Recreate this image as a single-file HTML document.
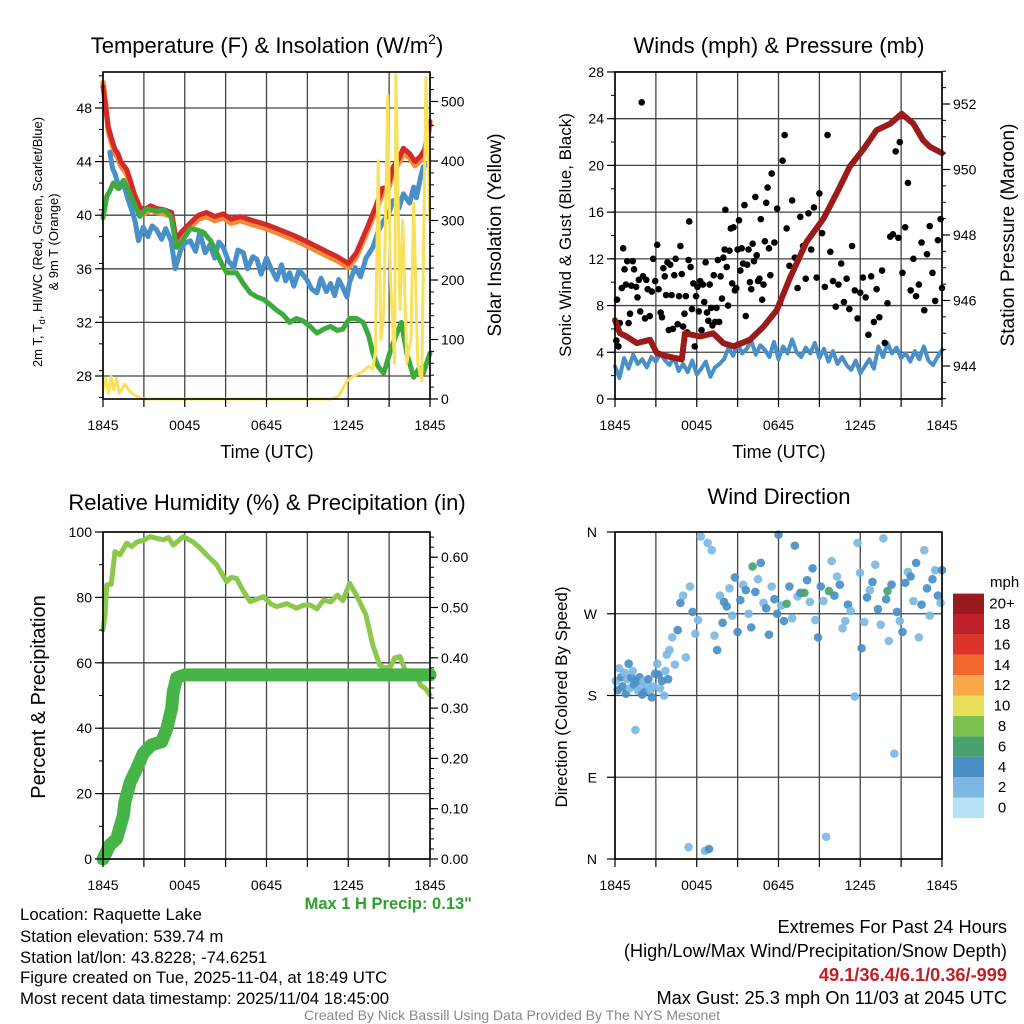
<!DOCTYPE html>
<html><head><meta charset="utf-8"><style>
html,body{margin:0;padding:0;background:#fff;}
svg{display:block;font-family:"Liberation Sans",Arial,sans-serif;}
</style></head><body>
<svg id="chart" width="1024" height="1024" viewBox="0 0 1024 1024" xmlns="http://www.w3.org/2000/svg">
<rect x="0" y="0" width="1024" height="1024" fill="#fff"/>
<g id="grids"></g>
<g id="series"></g>
<g id="frames"></g>
<g id="labels" font-size="14" fill="#000"></g>

<text x="267" y="53" font-size="22" text-anchor="middle">Temperature (F) &amp; Insolation (W/m<tspan font-size="14" dy="-9">2</tspan><tspan dy="9">)</tspan></text>
<text x="779" y="53" font-size="22" text-anchor="middle">Winds (mph) &amp; Pressure (mb)</text>
<text x="267" y="510" font-size="22" text-anchor="middle">Relative Humidity (%) &amp; Precipitation (in)</text>
<text x="779" y="504" font-size="22" text-anchor="middle">Wind Direction</text>

<text x="267" y="458" font-size="18" text-anchor="middle">Time (UTC)</text>
<text x="779" y="458" font-size="18" text-anchor="middle">Time (UTC)</text>

<g transform="translate(42,242) rotate(-90)" font-size="13" text-anchor="middle">
<text x="0" y="0">2m T, T<tspan font-size="9" dy="3">d</tspan><tspan dy="-3">, HI/WC (Red, Green, Scarlet/Blue)</tspan></text>
<text x="0" y="16">&amp; 9m T (Orange)</text>
</g>
<text transform="translate(501,235) rotate(-90)" font-size="19" text-anchor="middle">Solar Insolation (Yellow)</text>
<text transform="translate(571,235) rotate(-90)" font-size="17" text-anchor="middle">Sonic Wind &amp; Gust (Blue, Black)</text>
<text transform="translate(1014,235) rotate(-90)" font-size="19" text-anchor="middle">Station Pressure (Maroon)</text>
<text transform="translate(45,697) rotate(-90)" font-size="20" text-anchor="middle">Percent &amp; Precipitation</text>
<text transform="translate(567,697) rotate(-90)" font-size="17" text-anchor="middle">Direction (Colored By Speed)</text>

<text x="472" y="909" font-size="16.5" font-weight="bold" fill="#2ea02e" text-anchor="end">Max 1 H Precip: 0.13"</text>

<g font-size="16.8">
<text x="20" y="920">Location: Raquette Lake</text>
<text x="20" y="942">Station elevation: 539.74 m</text>
<text x="20" y="963">Station lat/lon: 43.8228; -74.6251</text>
<text x="20" y="983">Figure created on Tue, 2025-11-04, at 18:49 UTC</text>
<text x="20" y="1004">Most recent data timestamp: 2025/11/04 18:45:00</text>
</g>
<g font-size="18.2" text-anchor="end">
<text x="1007" y="933">Extremes For Past 24 Hours</text>
<text x="1007" y="957">(High/Low/Max Wind/Precipitation/Snow Depth)</text>
<text x="1007" y="981" font-weight="bold" fill="#c0202a">49.1/36.4/6.1/0.36/-999</text>
<text x="1007" y="1004">Max Gust: 25.3 mph On 11/03 at 2045 UTC</text>
</g>
<text x="512" y="1020" font-size="14" fill="#888" text-anchor="middle">Created By Nick Bassill Using Data Provided By The NYS Mesonet</text>
<g id="colorbar">
<text x="990" y="587" font-size="15">mph</text>
</g>
</svg>
<script>
// ---------- data ----------
const timeLabels = ["1845","0045","0645","1245","1845"];
const tempTicks = [28,32,36,40,44,48];
const solarTicks = [0,100,200,300,400,500];
const windTicks = [0,4,8,12,16,20,24,28];
const pressTicks = [944,946,948,950,952];
const rhTicks = [0,20,40,60,80,100];
const precipTicks = [0,0.1,0.2,0.3,0.4,0.5,0.6];
const dirTicks = [0,90,180,270,360];
const dirLabels = ["N","E","S","W","N"];
const cbLabels = ["0","2","4","6","8","10","12","14","16","18","20+"];
const cbColors = ["#b8e2f8","#7db8e3","#4a8ec6","#4aa36d","#7bc24e","#e8e05a","#f8a84a","#f0662c","#dd3429","#c0202a","#9b1a1f"];

const redT = [0,0.2,0.39,0.6,0.88,1.1,1.3,1.74,2.0,2.3,2.71,3.0,3.5,3.94,4.5,5.04,5.36,5.8,6.39,7.0,7.6,8.2,8.83,9.4,10.06,11.0,12.0,13.0,14.2,15.2,16.2,17.2,18.0,18.6,19.4,20.0,20.5,20.9,21.3,21.7,22.05,22.5,22.9,23.3,23.6,24.0];
const redV = [49.6,48.0,46.6,45.8,44.9,44.6,44.0,43.4,42.6,41.6,40.6,40.4,40.7,40.5,40.4,40.2,38.2,38.8,39.4,40.0,40.2,39.9,40.1,39.7,39.9,39.6,39.3,38.9,38.4,37.9,37.4,36.9,36.4,37.2,39.1,40.6,42.0,42.1,43.6,44.2,45.0,44.6,44.0,44.4,44.9,47.0];
const orangeV = [49.9,48.3,46.3,45.5,44.6,44.3,43.7,43.1,42.3,41.3,40.3,40.1,40.4,40.2,40.1,39.9,37.9,38.5,39.1,39.7,39.9,39.6,39.8,39.4,39.6,39.3,39.0,38.6,38.1,37.6,37.1,36.6,36.1,36.9,38.8,40.3,41.6,41.8,43.3,43.9,44.6,44.3,43.7,44.1,44.6,46.7];

const blueT = [0.51,0.7,0.88,1.2,1.5,1.8,2.1,2.35,2.6,2.96,3.3,3.6,3.94,4.3,4.6,5.0,5.3,5.7,6.0,6.4,6.8,7.1,7.5,7.85,8.2,8.5,8.83,9.2,9.6,9.9,10.3,10.6,11.0,11.3,11.6,12.0,12.3,12.75,13.1,13.4,13.7,14.0,14.4,14.95,15.3,15.7,16.0,16.4,16.7,17.0,17.3,17.6,17.9,18.1,18.5,18.9,19.3,19.8,20.2,20.6,21.0,21.3,21.7,22.05,22.5,22.8,23.0,23.3,23.5,23.76];
const blueV = [44.7,43.5,43.1,42.0,42.4,41.3,40.4,39.6,38.1,39.1,38.4,39.2,38.9,38.2,39.0,38.1,36.0,37.4,37.9,38.1,37.3,38.7,37.2,37.8,36.8,38.0,37.6,36.6,36.1,37.4,37.2,36.0,36.9,36.7,35.6,36.8,36.1,35.2,36.3,35.1,35.7,34.7,35.9,35.2,34.5,34.2,35.3,34.3,34.9,34.0,35.2,34.6,33.9,35.0,36.1,35.4,36.8,37.6,38.8,39.6,40.2,41.1,40.5,41.6,40.9,42.1,41.3,42.8,43.6,43.8];

const greenT = [0,0.27,0.5,0.76,1.1,1.5,1.8,2.2,2.7,3.2,3.94,4.5,5.0,5.4,5.9,6.4,6.9,7.4,7.9,8.34,8.7,9.07,9.8,10.3,10.8,11.3,11.8,12.3,12.75,13.2,13.7,14.2,14.7,15.2,15.7,16.2,16.7,17.2,17.6,18.1,18.6,19.1,19.5,19.8,20.2,20.6,21.1,21.5,21.9,22.3,22.8,23.2,23.5,24.0];
const greenV = [39.8,41.4,41.8,42.4,42.0,42.6,42.0,41.1,39.9,40.5,40.3,40.4,39.9,37.6,38.2,39.0,38.9,38.7,38.1,37.2,36.4,35.7,35.7,34.9,34.2,33.9,33.7,33.3,32.9,32.6,32.0,32.3,32.1,31.7,31.2,31.5,31.7,31.4,31.5,32.3,32.3,32.0,31.0,29.7,28.7,28.2,29.9,31.0,32.0,29.7,27.9,28.6,28.2,29.7];

const solarT = [0,0.2,0.4,0.6,0.8,1.0,1.2,1.6,2.0,2.5,3.0,16.8,17.3,17.9,18.5,19.0,19.5,19.8,20.0,20.2,20.4,20.6,20.9,21.1,21.4,21.5,21.8,22.0,22.3,22.6,22.8,23.1,23.4,23.7,24.0];
const solarV = [15,35,10,38,15,35,10,25,12,4,0,0,5,30,40,45,55,50,80,400,100,140,510,200,60,545,150,300,60,100,330,60,30,540,300];

const pressT = [0,0.37,0.86,1.6,2.57,3.06,3.79,4.9,5.14,6.24,7.2,7.95,8.7,9.9,10.9,11.87,12.85,14.07,15.3,16.3,17.25,18.2,19.2,20.2,21.04,21.9,22.6,23.1,24.0];
const pressV = [945.4,945.0,944.9,944.7,944.8,944.4,944.3,944.2,945.0,944.9,945.0,944.7,944.6,944.8,945.2,945.7,946.7,947.8,948.5,949.3,950.1,950.6,951.2,951.4,951.7,951.4,950.9,950.7,950.5];

// sonic wind sampled every 20 minutes
const sonicV = [2.8,1.8,3.5,2.6,3.8,3.0,3.4,2.7,3.6,3.2,3.9,3.3,2.9,3.6,2.4,
3.0,2.3,3.3,2.1,2.6,3.2,1.9,2.7,3.0,
3.4,4.4,3.7,4.8,3.9,4.3,5.0,3.8,4.6,4.2,3.6,4.9,
3.4,4.5,3.9,5.1,4.0,3.6,4.4,3.9,4.8,3.5,4.3,3.2,4.1,3.0,3.6,
2.9,2.5,3.3,2.2,2.8,3.4,
2.6,4.5,3.6,4.8,3.9,4.4,
3.5,3.9,3.2,4.1,3.4,4.5,3.3,2.9,3.6,4.2];

const gustT = [0.1,0.15,0.25,0.35,0.5,0.6,0.7,0.8,0.9,1.0,1.1,1.2,1.3,1.4,1.55,1.65,1.75,1.85,1.96,2.05,2.2,2.3,2.4,2.55,2.7,2.8,2.95,3.1,3.2,3.35,3.45,3.55,3.65,3.75,3.85,3.95,4.05,4.15,4.25,4.35,4.45,4.6,4.7,4.8,4.9,5.0,5.1,5.2,5.3,5.4,5.45,5.55,5.65,5.75,5.85,5.95,6.05,6.15,6.25,6.35,6.45,6.55,6.65,6.75,6.85,6.95,7.05,7.15,7.25,7.35,7.45,7.55,7.65,7.75,7.85,7.95,8.05,8.1,8.2,8.3,8.4,8.5,8.6,8.7,8.8,8.9,9.0,9.1,9.2,9.3,9.4,9.5,9.6,9.7,9.8,9.9,10.0,10.1,10.2,10.3,10.4,10.5,10.6,10.7,10.8,10.9,11.0,11.1,11.2,11.3,11.4,11.5,11.7,11.9,12.1,12.3,12.45,12.6,12.8,13.0,13.2,13.4,13.6,13.8,14.0,14.2,14.4,14.6,14.8,15.0,15.2,15.4,15.6,15.8,16.0,16.2,16.4,16.6,16.8,17.0,17.2,17.4,17.6,17.8,18.0,18.2,18.4,18.6,18.8,19.0,19.2,19.4,19.6,19.8,20.0,20.2,20.4,20.6,20.8,20.9,21.1,21.3,21.5,21.7,21.9,22.1,22.3,22.5,22.7,22.9,23.1,23.3,23.5,23.7,23.9,24.0];
const gustV = [5.0,8.5,4.5,6.5,9.5,12.9,11.1,9.8,11.8,6.5,7.3,9.7,11.8,11.1,9.6,8.7,10.2,7.5,25.4,10.5,6.9,10.2,9.4,7.1,9.2,12.0,10.1,13.2,9.4,7.4,7.0,11.2,10.5,8.9,11.7,5.9,11.5,8.9,6.0,10.6,12.0,6.4,8.8,13.1,10.7,6.2,7.3,8.8,5.7,11.9,15.2,11.3,7.7,9.9,4.5,8.8,9.6,7.5,10.1,5.9,9.8,8.3,11.7,7.4,6.7,9.8,7.8,6.3,10.6,6.6,7.8,11.9,6.6,10.5,8.6,12.1,12.8,16.2,11.3,8.0,12.7,14.6,9.9,14.7,9.3,9.5,12.8,15.3,11.0,12.9,11.6,16.6,7.1,11.5,12.8,10.0,9.4,13.3,11.8,17.3,12.3,10.1,10.3,15.4,8.5,9.8,13.5,16.8,18.1,12.9,10.6,19.3,13.4,16.3,8.2,20.4,22.6,14.6,11.4,17.0,12.1,9.5,15.6,13.1,10.3,15.9,12.8,16.4,10.4,17.6,14.2,9.6,22.6,12.6,10.1,7.9,9.8,11.6,8.3,10.3,7.7,13.1,9.3,6.9,9.1,10.4,8.7,5.5,10.5,6.6,9.4,7.0,11.0,4.8,8.2,13.9,14.1,21.2,13.8,22.0,10.8,14.7,18.5,9.3,12.0,8.8,9.8,13.4,7.6,12.4,14.8,10.8,8.4,13.6,15.4,9.5,11.9,6.1,16.0,10.4,8.7,16.5];

const dirT = [0.05,0.2,0.3,0.45,0.55,0.7,0.8,0.9,1.0,1.1,1.2,1.3,1.4,1.5,1.6,1.7,1.8,1.9,2.0,2.1,2.2,2.3,2.45,2.6,2.7,2.8,2.95,3.1,3.2,3.3,3.45,3.6,3.7,3.8,3.9,4.0,4.2,4.4,4.6,4.8,5.0,5.2,5.4,5.5,5.7,5.9,6.1,6.3,6.6,6.8,6.9,7.1,7.3,7.5,7.7,7.9,8.0,8.2,8.4,8.6,8.8,9.0,9.2,9.4,9.6,9.8,10.0,10.1,10.3,10.5,10.7,10.9,11.1,11.3,11.5,11.7,11.9,12.0,12.2,12.4,12.6,12.8,13.0,13.2,13.4,13.6,13.9,14.1,14.3,14.5,14.7,14.9,15.1,15.3,15.5,15.7,15.9,16.1,16.3,16.5,16.7,16.9,17.1,17.3,17.6,17.8,17.98,18.1,18.3,18.5,18.7,18.9,19.1,19.3,19.5,19.7,19.9,20.0,20.1,20.3,20.5,20.7,20.9,21.1,21.3,21.5,21.7,21.9,22.1,22.3,22.5,22.7,22.9,23.1,23.3,23.5,23.7,23.9,24.0];
const dirV = [196,186,210,200,190,205,182,198,215,188,200,207,192,142,195,185,200,188,181,196,184,192,198,186,178,190,204,215,203,188,196,180,207,225,198,230,244,214,252,282,290,222,13,300,272,248,263,355,9,348,11,340,246,230,290,260,283,278,298,268,310,250,285,302,296,270,255,322,294,308,326,282,276,247,300,286,270,357,279,262,281,300,265,345,289,293,293,307,283,320,263,244,300,284,24.5,295,328,290,311,302,254,262,280,273,179,348,315,232,261,288,296,305,324,275,258,353,286,295,240,302,116,272,262,250,304,316,311,284,326,244,280,340,298,268,308,318,290,282,318,300,262];
const dirS = [3.2,4.5,3.0,4.6,4.4,3.3,4.7,3.1,4.5,2.9,4.4,3.2,4.8,3.0,4.3,3.4,4.5,3.3,4.6,3.1,4.4,3.2,4.6,3.5,4.7,3.0,4.5,3.3,4.4,3.0,4.8,3.1,3.4,3.2,4.5,3.6,3.3,3.1,4.6,4.7,3.2,3.4,3.0,3.1,4.5,3.2,3.4,3.0,3.3,3.1,4.5,3.2,3.3,4.4,3.1,4.6,4.5,4.7,3.2,3.4,4.6,4.5,4.4,3.1,4.6,3.3,4.5,6.5,4.5,3.2,4.6,3.3,4.7,4.4,3.2,4.5,4.6,4.5,3.1,4.4,6.5,4.6,3.3,4.5,3.2,4.7,6.5,4.5,3.3,4.6,3.2,4.4,4.6,3.1,3.0,6.5,3.2,4.6,3.3,4.5,3.2,3.3,4.5,3.2,3.0,3.1,3.2,4.6,3.3,4.5,3.4,4.7,3.2,4.5,3.3,3.1,4.6,6.5,3.0,4.5,3.2,4.6,3.3,4.5,4.7,3.2,4.5,3.3,4.6,3.2,4.7,3.3,4.6,3.2,4.5,3.3,4.6,3.2,4.5,3.1,4.6];

const rhT = [0,0.15,0.27,0.6,0.88,1.25,1.74,2.1,2.47,3.0,3.45,4.0,4.43,4.8,5.16,5.5,5.9,6.63,7.1,7.6,8.34,9.07,9.4,9.8,10.3,10.8,11.3,11.77,12.3,12.75,13.5,14.2,14.7,15.2,15.7,16.2,16.7,17.2,17.6,18.1,18.6,19.3,19.8,20.3,20.7,21.1,21.4,21.8,22.2,22.5,22.9,23.3,23.7,24.0];
const rhV = [70,74.6,83.8,84,94,93,96.6,95.5,96.9,97.5,98.6,98.0,97.6,98.3,96,97.2,98.6,96.9,95.2,93,90,84.8,86.1,85.8,82.0,78.7,79.5,80.2,78.0,77.2,78.1,76.7,77.6,77.7,76.5,79.2,78.6,80.7,79.0,84.3,80.7,74.6,65.4,59.3,58.4,58.8,61.5,61.9,57.5,55.3,56.8,53.2,52.0,50.2];

const precipT = [0,0.51,1.0,1.5,1.6,2.0,2.47,2.96,3.57,4.3,4.7,5.04,5.16,5.4,6.0,24.0];
const precipV = [0,0.028,0.04,0.087,0.113,0.153,0.18,0.21,0.227,0.233,0.26,0.30,0.333,0.36,0.366,0.366];

// ---------- axes ----------
const P1 = {x0:103,x1:430,y0:72,y1:399};
const P2 = {x0:615,x1:942,y0:72,y1:399};
const P3 = {x0:103,x1:430,y0:532,y1:859};
const P4 = {x0:615,x1:942,y0:532,y1:859};
const xT = t => P1.x0 + t/24*(P1.x1-P1.x0);
const xW = t => P2.x0 + t/24*(P2.x1-P2.x0);
const yTemp = v => 376 - (v-28)*13.4;
const ySol = w => 399 - w*0.595;
const yWind = v => 399 - v*11.68;
const yPres = p => 366 - (p-944)*32.75;
const yRH = v => 859 - v*3.27;
const yPr = v => 859 - v*503;
const yDir = d => 859 - d/360*327;

const NS = "http://www.w3.org/2000/svg";
const G = id => document.getElementById(id);
function mk(tag, attrs, parent){
  const e = document.createElementNS(NS, tag);
  for (const k in attrs) e.setAttribute(k, attrs[k]);
  parent.appendChild(e);
  return e;
}
const grids = G('grids'), series = G('series'), frames = G('frames'), labels = G('labels');

function panel(P, xf, hVals, yf, name){
  for (let h=0; h<=24; h+=3){
    const ln = mk('line',{x1:xf(h),x2:xf(h),y1:P.y0,y2:P.y1,stroke:'#444','stroke-width':1.3},grids);
    
    
    const tk = mk('line',{x1:xf(h),x2:xf(h),y1:P.y1,y2:P.y1+8,stroke:'#000','stroke-width':1.2},frames);
    
    
  }
  hVals.forEach(v=>{
    const ln = mk('line',{x1:P.x0,x2:P.x1,y1:yf(v),y2:yf(v),stroke:'#444','stroke-width':1.3},grids);
    
    
  });
  const fr = mk('rect',{x:P.x0,y:P.y0,width:P.x1-P.x0,height:P.y1-P.y0,fill:'none',stroke:'#000','stroke-width':1.6},frames);
  
  
  timeLabels.forEach((s,i)=>{
    const t = mk('text',{x:xf(i*6),y:P.y1+31,'text-anchor':'middle'},labels);
    t.textContent = s;
    
    
  });
}
function yAxis(vals, yf, x, side, fmt, name, minorStep, lo, hi){
  vals.forEach(v=>{
    const dx = side==='left' ? -8 : 8;
    const tk = mk('line',{x1:x,x2:x+dx,y1:yf(v),y2:yf(v),stroke:'#000','stroke-width':1.2},frames);
    
    
    const t = mk('text',{x: side==='left'? x-11 : x+11, y:yf(v)+5,'text-anchor': side==='left'?'end':'start'},labels);
    t.textContent = fmt(v);
    
    
  });
  if (minorStep){
    for (let v=lo; v<=hi+1e-9; v+=minorStep){
      const y = yf(v);
      const dx = side==='left' ? -4 : 4;
      const tk = mk('line',{x1:x,x2:x+dx,y1:y,y2:y,stroke:'#000','stroke-width':1},frames);
      
      
    }
  }
}
function line(xs, ys, xf, yf, color, w, name){
  const pts = xs.map((t,i)=> xf(t).toFixed(1)+','+yf(ys[i]).toFixed(1)).join(' ');
  const pl = mk('polyline',{points:pts,fill:'none',stroke:color,'stroke-width':w,'stroke-linejoin':'round','stroke-linecap':'round'},series);
  
  
}

// panel 1
panel(P1, xT, tempTicks, yTemp, 'temperature');
yAxis(tempTicks, yTemp, P1.x0, 'left', v=>v, 'temperature-y', 2, 26.4, 50.6);
yAxis(solarTicks, ySol, P1.x1, 'right', v=>v, 'solar-y', 20, 0, 540);
line(redT, orangeV, xT, yTemp, '#f5893a', 5.5, 'nine-meter-temperature-line');
line(redT, redV, xT, yTemp, '#d42a2a', 5, 'two-meter-temperature-line');
line(blueT, blueV, xT, yTemp, '#4a90c8', 5, 'wind-chill-line');
line(greenT, greenV, xT, yTemp, '#3daa3d', 5, 'dewpoint-line');
line(solarT, solarV, xT, ySol, '#f9e15c', 3, 'solar-insolation-line');

// panel 2
panel(P2, xW, windTicks, yWind, 'wind');
yAxis(windTicks, yWind, P2.x0, 'left', v=>v, 'wind-y', 2, 0, 28);
yAxis(pressTicks, yPres, P2.x1, 'right', v=>v, 'pressure-y', 0.5, 943, 953);
line(sonicV.map((v,i)=>i/3), sonicV, xW, yWind, '#4a90c8', 4, 'sonic-wind-line');
gustT.forEach((t,i)=>{
  const c = mk('circle',{cx:xW(t),cy:yWind(gustV[i]),r:3.3,fill:'#000'},series);
  
  
});
line(pressT, pressV, xW, yPres, '#9b1a1a', 6, 'pressure-line');

// panel 3
panel(P3, xT, rhTicks, yRH, 'humidity');
yAxis(rhTicks, yRH, P3.x0, 'left', v=>v, 'humidity-y', 10, 0, 100);
yAxis(precipTicks, yPr, P3.x1, 'right', v=>v.toFixed(2), 'precip-y', 0.02, 0, 0.64);
line(rhT, rhV, xT, yRH, '#8cc84b', 5, 'relative-humidity-line');
line(precipT, precipV, xT, yPr, '#46b446', 13, 'precipitation-line');

// panel 4
panel(P4, xW, dirTicks, yDir, 'direction');
dirTicks.forEach((d,i)=>{
  const tk = mk('line',{x1:P4.x0,x2:P4.x0-8,y1:yDir(d),y2:yDir(d),stroke:'#000','stroke-width':1.2},frames);
  
  
  const t = mk('text',{x:P4.x0-18,y:yDir(d)+5,'text-anchor':'end'},labels);
  t.textContent = dirLabels[i];
  
  
});
function speedColor(s){ return cbColors[Math.min(10, Math.floor(s/2))]; }
dirT.forEach((t,i)=>{
  const c = mk('circle',{cx:xW(t),cy:yDir(dirV[i]),r:4.3,fill:speedColor(dirS[i]),'fill-opacity':0.92},series);
  
  
});

// colorbar
const cb = G('colorbar');
cbColors.forEach((col,i)=>{
  const y = 818 - (i+1)*20.4;
  const r = mk('rect',{x:953,y:y,width:31,height:20.4,fill:col},cb);
  
  
  const t = mk('text',{x:1002,y:y+15,'font-size':15,'text-anchor':'middle'},cb);
  t.textContent = cbLabels[i];
  
  
});
</script>
</body></html>
